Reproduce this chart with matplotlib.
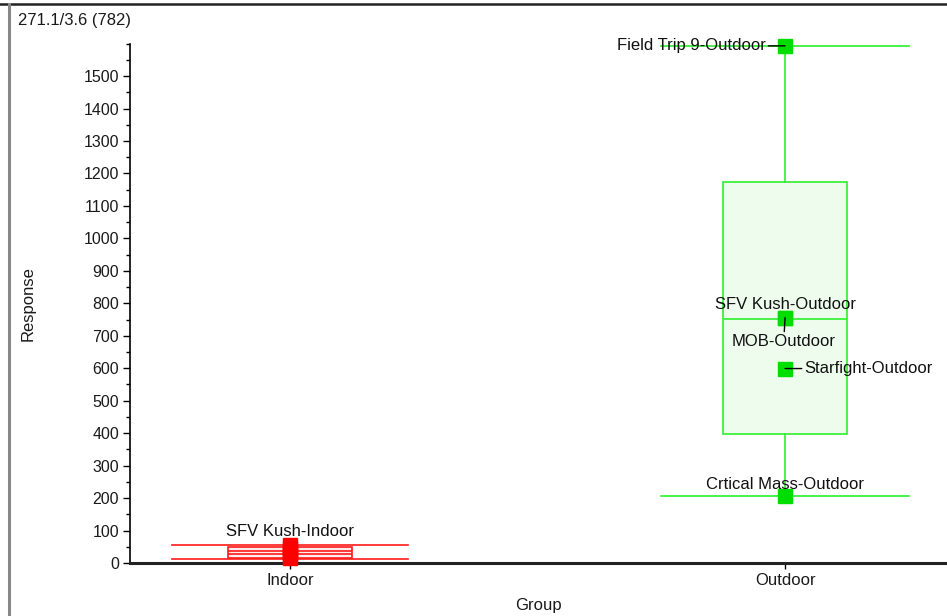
import matplotlib
matplotlib.use("Agg")
import matplotlib.pyplot as plt
from matplotlib.lines import Line2D
from matplotlib.ticker import MultipleLocator

plt.rcParams['font.family'] = ['Liberation Sans', 'DejaVu Sans']

# Groups and their box statistics
groups = ["Indoor", "Outdoor"]
q1 = [14.5, 398]
q3 = [50.6, 1173]
medians = [37, 753]
means = [27, 753]
whisker_low = [11.4, 207]
whisker_high = [54.6, 1593]

# Individual samples per group
indoor_values = [55, 45, 35, 25, 15]
indoor_names = ["SFV Kush-Indoor", "", "", "", ""]
outdoor_values = [1593, 756, 756, 599, 207]
outdoor_names = ["Field Trip 9-Outdoor", "SFV Kush-Outdoor", "MOB-Outdoor",
                 "Starfight-Outdoor", "Crtical Mass-Outdoor"]

title_text = "271.1/3.6 (782)"

edge_colors = ["#ff1a1a", "#2bf02b"]
fill_colors = ["#ffecec", "#eefcee"]
marker_colors = ["#ff0000", "#00dd00"]

FS = 12
TICK_FS = 11.5

fig = plt.figure(figsize=(9.47, 6.16), dpi=100)
ax = fig.add_axes([130 / 947, 53 / 616, 817 / 947, 519.4 / 616])

positions = list(range(len(groups)))
for i in positions:
    stats = [dict(q1=q1[i], q3=q3[i], med=medians[i], mean=means[i],
                  whislo=whisker_low[i], whishi=whisker_high[i], fliers=[])]
    ax.bxp(stats, positions=[i], widths=0.25, patch_artist=True,
           showmeans=(i == 0), meanline=True, capwidths=0.5 if i == 1 else 0.475,
           boxprops=dict(facecolor=fill_colors[i], edgecolor=edge_colors[i], linewidth=1.2),
           medianprops=dict(color=edge_colors[i], linewidth=1.2),
           meanprops=dict(color=edge_colors[i], linewidth=1.2, linestyle='-'),
           whiskerprops=dict(color=edge_colors[i], linewidth=1.2),
           capprops=dict(color=edge_colors[i], linewidth=1.2),
           manage_ticks=False, zorder=2)

ax.plot([0] * len(indoor_values), indoor_values, 's', color=marker_colors[0],
        markersize=10, zorder=4, clip_on=False)
ax.plot([1] * len(outdoor_values), outdoor_values, 's', color=marker_colors[1],
        markersize=10, zorder=4, clip_on=False)

line_kw = dict(arrowstyle='-', color='black', lw=1.0, shrinkA=0, shrinkB=0)
label_kw = dict(fontsize=FS, color='#111111', zorder=5)

# Point labels with leader lines
ax.annotate(indoor_names[0], (0, indoor_values[0]), xytext=(0, 9.5),
            textcoords='offset points', ha='center', va='center', **label_kw)
ax.annotate(outdoor_names[0], (1, outdoor_values[0]), xytext=(-14, 0),
            textcoords='offset points', ha='right', va='center',
            arrowprops=line_kw, **label_kw)
ax.annotate(outdoor_names[1], (1, outdoor_values[1]), xytext=(0, 9.5),
            textcoords='offset points', ha='center', va='center', **label_kw)
ax.annotate(outdoor_names[2], (1, outdoor_values[2]), xytext=(-1, -17.5),
            textcoords='offset points', ha='center', va='center',
            arrowprops=line_kw, **label_kw)
ax.annotate(outdoor_names[3], (1, outdoor_values[3]), xytext=(14, 0),
            textcoords='offset points', ha='left', va='center',
            arrowprops=line_kw, **label_kw)
ax.annotate(outdoor_names[4], (1, outdoor_values[4]), xytext=(0, 8),
            textcoords='offset points', ha='center', va='center', **label_kw)

ax.set_xlim(-0.323, 1.327)
ax.set_ylim(0, 1600)
ax.set_xticks(positions)
ax.set_xticklabels(groups)
ax.yaxis.set_major_locator(MultipleLocator(100))
ax.yaxis.set_minor_locator(MultipleLocator(50))
ax.set_yticks([t for t in range(0, 1600, 100)])
ax.tick_params(axis='y', which='major', length=5, width=1, labelsize=TICK_FS,
               labelcolor='#1a1a1a', pad=3)
ax.tick_params(axis='y', which='minor', length=3, width=1)
ax.tick_params(axis='x', length=4, width=1, labelsize=FS, labelcolor='#1a1a1a', pad=3)

ax.spines['top'].set_visible(False)
ax.spines['right'].set_visible(False)
ax.spines['left'].set_linewidth(1.2)
ax.spines['bottom'].set_linewidth(2.2)
ax.spines['bottom'].set_color('#222222')

ax.set_ylabel("Response", fontsize=FS, color='#1a1a1a')
ax.set_xlabel("Group", fontsize=FS, color='#1a1a1a')
ax.yaxis.set_label_coords(-0.115, 0.5)
ax.xaxis.set_label_coords(0.5, -0.067)

fig.text(18 / 947, 1 - 20 / 616, title_text, fontsize=FS, color='#1a1a1a',
         ha='left', va='center')

# Outer frame: top rule and left rule
fig.add_artist(Line2D([0, 1], [1 - 3.5 / 616] * 2, color='#222222', lw=1.8))
fig.add_artist(Line2D([8.5 / 947] * 2, [0, 1 - 3.5 / 616], color='#888888', lw=2.2))

fig.savefig("out.png", dpi=100)
